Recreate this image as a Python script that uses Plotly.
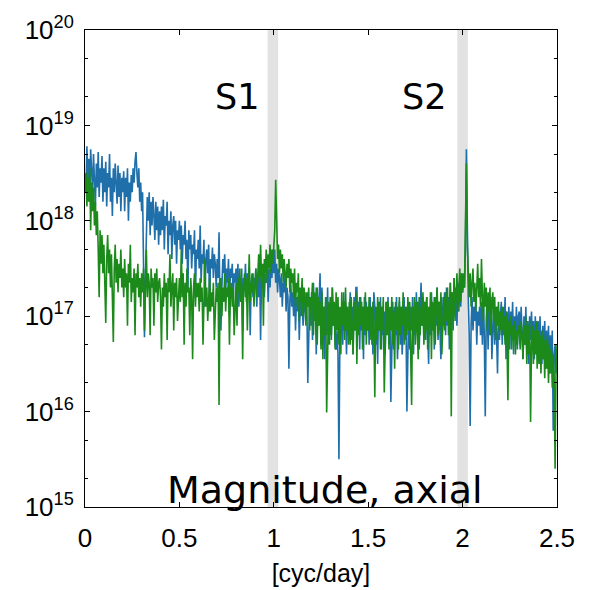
import plotly.graph_objects as go

# frequency grid (cyc/day), step 0.005
freq = [round(i * 0.005, 3) for i in range(501)]

# log10 magnitudes (20 values per 0.1 cyc/day)
blue_log = [
    18.5, 18.3, 18.78, 18.4, 18.65, 18.2, 18.75, 18.45, 18.3, 18.7, 18.5, 18.15, 18.6, 18.35, 18.72, 18.25, 18.55, 18.4, 18.68, 18.2,
    18.55, 18.3, 18.62, 18.15, 18.5, 18.35, 18.7, 18.2, 18.45, 18.05, 18.55, 18.3, 18.6, 18.4, 18.18, 18.58, 18.25, 18.5, 18.1, 18.45,
    18.3, 18.52, 18.1, 18.45, 18.25, 18.55, 18.0, 18.4, 18.2, 18.48, 18.3, 18.55, 18.4, 18.62, 18.72, 18.5, 18.35, 18.55, 18.2, 18.4,
    18.1, 18.3, 17.6, 16.78, 17.4, 17.9, 18.25, 18.0, 18.3, 17.85, 18.2, 17.95, 18.25, 18.05, 17.8, 18.2, 17.9, 18.15, 17.75, 18.1,
    17.85, 18.15, 17.9, 18.22, 17.7, 18.05, 17.95, 18.2, 17.65, 18.0, 17.85, 18.1, 17.6, 17.95, 18.05, 17.75, 18.0, 17.55, 17.9, 17.8,
    18.0, 17.7, 17.95, 17.55, 17.85, 17.75, 18.0, 17.6, 17.8, 17.25, 17.9, 17.7, 17.85, 17.5, 17.75, 17.65, 17.9, 17.2, 17.7, 17.6,
    17.8, 17.5, 17.95, 17.35, 17.65, 17.55, 17.8, 17.1, 17.6, 17.7, 17.45, 17.75, 17.05, 17.6, 17.5, 17.72, 17.4, 17.65, 17.55, 17.3,
    17.6, 17.4, 17.88, 17.1, 16.85, 17.3, 17.6, 17.45, 17.65, 17.25, 17.5, 17.35, 17.6, 17.0, 17.5, 17.4, 17.55, 17.15, 17.45, 17.35,
    17.5, 17.3, 17.55, 17.1, 17.4, 17.25, 17.5, 16.85, 17.4, 17.3, 17.55, 17.15, 17.45, 17.25, 17.5, 16.8, 17.35, 17.45, 17.2, 17.4,
    17.3, 17.5, 17.1, 17.45, 17.2, 17.55, 16.75, 17.4, 17.3, 17.55, 17.2, 17.45, 17.35, 17.6, 17.15, 17.5, 17.3, 17.55, 17.4, 17.65,
    17.45, 17.7, 17.35, 17.55, 17.25, 17.5, 17.4, 17.2, 17.45, 17.1, 17.35, 17.25, 17.45, 17.05, 17.3, 17.2, 16.45, 17.15, 17.35, 17.1,
    17.25, 17.0, 17.3, 16.85, 17.2, 17.05, 17.25, 16.75, 17.15, 17.0, 17.2, 16.9, 17.1, 17.25, 16.95, 17.15, 16.3, 17.05, 17.2, 16.9,
    17.25, 16.75, 17.35, 16.95, 17.1, 16.6, 17.3, 16.9, 17.15, 17.45, 16.7, 17.3, 16.95, 17.1, 16.55, 17.2, 16.8, 17.3, 16.75, 17.05,
    17.2, 16.75, 17.3, 16.9, 17.1, 16.7, 16.65, 16.85, 16.6, 15.5, 16.75, 16.9, 17.1, 16.7, 17.25, 16.85, 17.15, 16.6, 17.1, 16.8,
    17.05, 17.25, 16.75, 17.1, 16.6, 17.2, 16.85, 17.3, 17.3, 16.9, 17.15, 16.65, 17.2, 16.85, 17.1, 16.55, 17.2, 16.8, 17.15, 16.85,
    17.1, 16.7, 17.2, 16.8, 17.1, 16.6, 17.25, 17.1, 16.7, 17.0, 16.5, 17.15, 16.85, 17.2, 16.65, 17.1, 16.8, 17.05, 16.6, 17.15,
    16.85, 17.2, 16.7, 17.05, 16.1, 16.8, 17.15, 16.65, 17.1, 16.8, 17.2, 16.55, 17.0, 17.15, 16.7, 17.1, 16.6, 17.0, 17.2, 16.75,
    17.0, 16.0, 16.8, 17.15, 16.65, 17.1, 16.85, 17.2, 16.6, 17.1, 16.8, 17.25, 16.85, 17.15, 16.65, 17.2, 17.35, 16.9, 17.2, 16.75,
    17.15, 16.75, 17.2, 16.85, 16.5, 17.1, 16.8, 17.25, 16.85, 17.1, 16.65, 17.2, 16.9, 17.3, 16.75, 17.15, 16.85, 16.55, 17.2, 16.9,
    17.1, 17.25, 16.8, 17.3, 16.9, 17.2, 16.65, 17.35, 16.95, 17.25, 16.85, 17.4, 17.0, 17.3, 16.9, 17.35, 17.05, 17.4, 17.1, 17.45,
    17.25, 17.4, 17.3, 17.7, 18.75, 17.85, 17.2, 16.8, 15.85, 16.9, 17.2, 16.85, 17.1, 16.95, 17.15, 16.7, 17.05, 16.9, 17.1, 16.8,
    17.15, 16.7, 17.2, 16.8, 15.95, 16.95, 17.2, 16.65, 17.1, 16.8, 17.2, 16.55, 17.05, 17.15, 16.7, 17.1, 16.8, 16.4, 17.05, 16.75,
    17.0, 17.15, 16.7, 17.1, 16.8, 17.2, 16.55, 17.05, 16.75, 17.1, 16.65, 17.05, 16.8, 17.15, 16.6, 17.0, 16.75, 17.1, 16.65, 17.0,
    17.05, 16.7, 17.1, 16.75, 16.55, 17.0, 16.7, 17.1, 16.65, 16.95, 16.5, 17.0, 16.75, 17.05, 16.65, 16.95, 16.55, 17.0, 16.7, 16.9,
    16.95, 16.6, 17.0, 16.65, 16.5, 16.9, 16.55, 16.95, 16.45, 16.85, 16.55, 16.9, 16.4, 16.8, 16.5, 16.85, 15.8, 16.6, 16.7, 16.4,
    16.6,
]

green_log = [
    18.3, 18.5, 18.15, 18.45, 18.2, 18.55, 17.9, 18.4, 18.1, 18.35, 17.95, 18.2, 17.85, 18.1, 17.7, 17.2, 17.9, 17.55, 17.85, 17.45,
    17.75, 17.4, 16.93, 17.6, 17.85, 17.45, 17.7, 17.3, 17.65, 17.2, 16.73, 17.5, 17.75, 17.35, 17.6, 17.25, 17.55, 17.4, 17.7, 17.3,
    17.5, 17.2, 17.6, 17.3, 17.45, 16.9, 17.55, 17.35, 17.75, 17.15, 17.4, 17.25, 17.5, 16.8, 17.45, 17.3, 17.55, 17.2, 17.4, 17.1,
    17.45, 17.25, 17.5, 16.85, 17.3, 17.7, 17.2, 17.45, 17.35, 16.8, 17.5, 17.3, 17.4, 16.9, 17.45, 17.25, 17.5, 17.15, 17.35, 17.4,
    17.2, 16.65, 17.3, 17.1, 17.45, 17.2, 17.35, 16.75, 17.4, 17.25, 17.65, 17.1, 17.3, 17.45, 16.85, 17.35, 17.2, 17.4, 16.95, 17.3,
    17.4, 17.15, 17.7, 17.2, 17.45, 16.7, 17.35, 17.1, 17.5, 17.25, 17.3, 16.8, 17.4, 17.2, 16.55, 17.3, 17.45, 17.1, 17.35, 17.2,
    17.35, 17.05, 17.4, 17.15, 17.3, 16.7, 17.25, 17.6, 17.1, 17.3, 16.95, 17.2, 17.4, 17.05, 17.25, 17.1, 17.35, 16.75, 17.2, 17.3,
    17.15, 17.35, 16.07, 17.2, 17.4, 17.0, 17.3, 17.15, 17.45, 17.05, 17.3, 17.2, 17.4, 16.7, 17.25, 17.35, 17.1, 17.3, 16.8, 17.25,
    17.35, 16.9, 17.4, 17.25, 17.5, 17.15, 17.35, 16.55, 17.3, 17.45, 17.2, 17.4, 16.85, 17.3, 17.65, 17.15, 17.35, 17.25, 17.45, 17.1,
    17.3, 17.5, 17.2, 17.45, 17.65, 17.35, 17.75, 17.4, 17.55, 16.9, 17.6, 17.45, 17.7, 17.35, 17.65, 17.5, 17.75, 17.45, 17.7, 17.55,
    17.75, 17.9, 18.43, 17.85, 17.6, 17.75, 17.45, 17.7, 17.5, 17.65, 17.35, 17.6, 17.45, 17.3, 17.55, 17.4, 17.6, 17.25, 17.5, 17.35,
    17.45, 17.2, 17.5, 17.1, 17.35, 17.25, 17.45, 16.95, 17.3, 17.15, 17.4, 17.0, 17.3, 17.2, 16.9, 17.25, 17.1, 17.3, 16.85, 17.2,
    17.15, 17.35, 16.8, 17.25, 16.95, 17.3, 16.7, 17.2, 16.9, 17.15, 16.65, 17.25, 16.55, 17.1, 16.8, 17.2, 15.99, 16.85, 17.15, 16.7,
    17.2, 16.8, 17.3, 16.9, 17.15, 16.65, 17.25, 16.85, 17.2, 16.7, 17.1, 16.6, 17.25, 16.9, 17.15, 16.75, 17.3, 16.85, 17.1, 16.7,
    17.15, 16.7, 17.2, 16.9, 16.6, 17.15, 16.85, 17.25, 16.5, 17.1, 16.8, 17.2, 16.9, 17.15, 16.65, 17.1, 16.85, 17.25, 16.7, 17.1,
    16.85, 17.2, 16.75, 17.1, 16.7, 17.15, 16.9, 16.15, 17.1, 16.75, 17.2, 16.85, 17.15, 16.65, 17.1, 16.85, 17.2, 16.2, 16.9, 17.15,
    16.8, 17.15, 16.65, 17.1, 16.85, 17.2, 16.7, 17.05, 16.45, 17.15, 16.85, 17.1, 16.65, 17.2, 16.8, 17.1, 16.9, 17.25, 16.7, 17.05,
    17.1, 16.8, 17.2, 16.85, 17.15, 16.65, 16.07, 17.1, 16.85, 17.2, 16.7, 17.15, 16.9, 16.55, 17.2, 16.8, 17.1, 16.9, 17.25, 16.7,
    17.15, 16.85, 17.2, 16.65, 17.1, 16.9, 17.25, 16.55, 17.15, 16.85, 17.2, 16.7, 17.1, 17.3, 16.8, 17.15, 16.9, 17.25, 16.6, 17.1,
    17.2, 16.85, 17.25, 16.95, 17.3, 16.8, 17.2, 17.35, 15.95, 17.25, 17.0, 17.4, 16.95, 17.3, 17.45, 17.05, 17.4, 17.5, 17.15, 17.45,
    17.25, 17.45, 17.3, 17.85, 18.6, 17.75, 17.4, 17.2, 17.45, 17.1, 17.35, 17.5, 17.15, 17.35, 17.05, 17.3, 17.55, 17.2, 17.4, 17.1,
    17.6, 17.2, 16.95, 17.35, 17.1, 17.3, 16.85, 17.25, 17.05, 17.3, 16.8, 17.15, 17.25, 16.95, 17.2, 16.75, 17.1, 16.9, 17.15, 16.85,
    17.05, 16.8, 17.1, 16.85, 17.0, 16.7, 17.05, 16.75, 16.12, 16.95, 16.8, 17.0, 16.65, 16.9, 16.75, 16.95, 16.6, 16.85, 16.7, 16.9,
    16.9, 16.65, 16.95, 16.8, 16.55, 16.9, 16.7, 17.0, 16.5, 16.9, 16.6, 16.95, 15.89, 16.7, 16.9, 16.5, 16.85, 16.6, 16.95, 16.45,
    16.85, 16.5, 16.8, 16.4, 16.85, 16.55, 16.75, 16.35, 16.8, 16.45, 16.75, 16.3, 16.7, 16.4, 16.65, 16.25, 16.6, 16.35, 15.4, 16.45,
    16.7,
]

blue_vals = [10.0 ** v for v in blue_log]
green_vals = [10.0 ** v for v in green_log]

band_centers = [0.995, 2.0]
band_labels = ["S1", "S2"]
label_x = [0.81, 1.80]
y_exponents = [15, 16, 17, 18, 19, 20]
x_ticks = [0, 0.5, 1, 1.5, 2, 2.5]
x_ticktext = ["0", "0.5", "1", "1.5", "2", "2.5"]

fig = go.Figure()
fig.add_trace(go.Scatter(x=freq, y=blue_vals, mode="lines",
                         line=dict(color="#1f6fab", width=1.6), showlegend=False))
fig.add_trace(go.Scatter(x=freq, y=green_vals, mode="lines",
                         line=dict(color="#1b8a1b", width=1.6), showlegend=False))

for c in band_centers:
    fig.add_shape(type="rect", xref="x", yref="paper", x0=c - 0.028, x1=c + 0.028,
                  y0=0, y1=1, fillcolor="#e2e2e2", line=dict(width=0), layer="below")

for lx, t in zip(label_x, band_labels):
    fig.add_annotation(x=lx, y=19.3, xref="x", yref="y", text=t, showarrow=False,
                       font=dict(family="DejaVu Sans", size=35, color="black"))

fig.add_annotation(x=1.27, y=15.18, xref="x", yref="y", text="Magnitude, axial",
                   showarrow=False, font=dict(family="DejaVu Sans", size=38, color="black"))

fig.update_layout(
    width=590, height=590,
    margin=dict(l=77, r=41, t=22, b=91),
    plot_bgcolor="white", paper_bgcolor="white",
    font=dict(family="Liberation Sans, Arial", color="black"),
)
fig.update_xaxes(range=[0, 2.5], tickvals=x_ticks, ticktext=x_ticktext, automargin=False,
                 ticks="inside", ticklen=5, tickcolor="black", mirror="allticks",
                 showline=True, linecolor="black", linewidth=1, showgrid=False,
                 zeroline=False, tickfont=dict(size=26), ticklabelstandoff=8,
                 title=dict(text="[cyc/day]", font=dict(size=25), standoff=12))
fig.update_yaxes(type="log", range=[15, 20], tickvals=[10.0 ** e for e in y_exponents],
                 ticktext=["10<sup>%d</sup>" % e for e in y_exponents], automargin=False,
                 ticks="inside", ticklen=5, tickcolor="black", mirror="allticks",
                 showline=True, linecolor="black", linewidth=1, showgrid=False,
                 zeroline=False, tickfont=dict(size=26), ticklabelstandoff=5,
                 minor=dict(ticks="inside", ticklen=3, tickcolor="black", showgrid=False))

fig.write_html("out.html")
